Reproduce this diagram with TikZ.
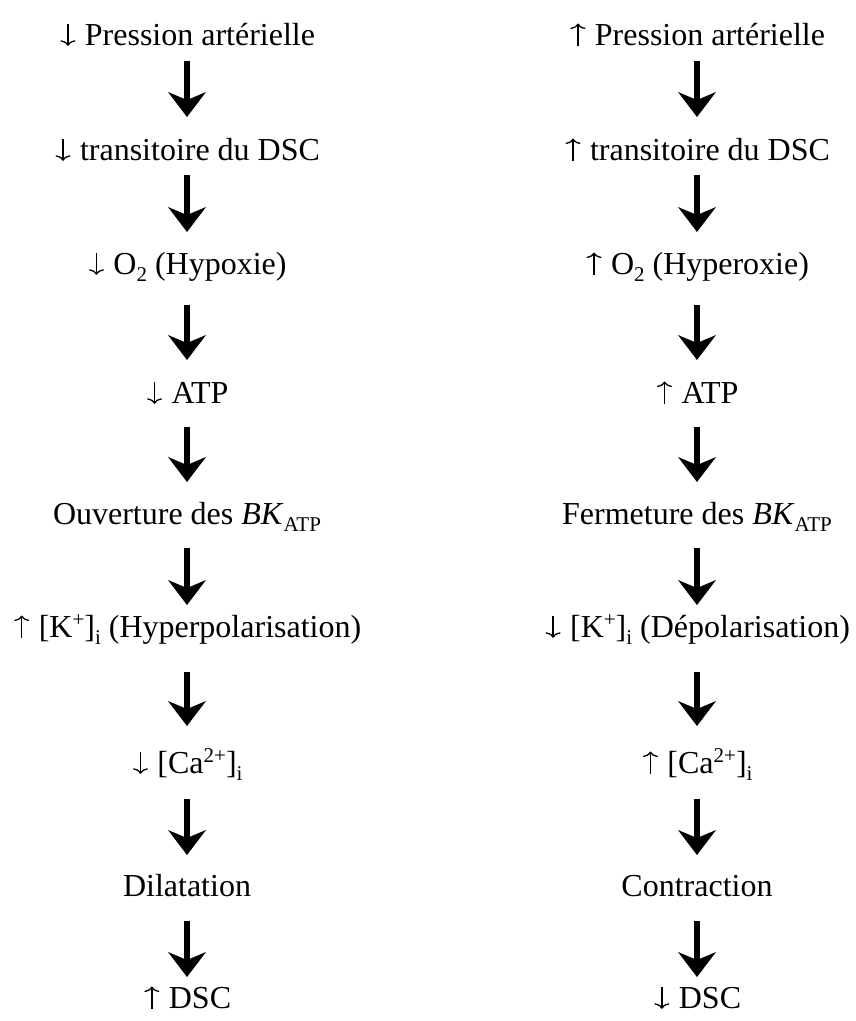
\documentclass[tikz,border=0pt]{standalone}
\usepackage{fontspec}
\setmainfont{Liberation Serif}
\usetikzlibrary{arrows.meta,calc}
\newcommand\sbx[1]{\raisebox{-7pt}{\fontsize{21}{21}\selectfont #1}}
\newcommand\spx[1]{\raisebox{11pt}{\fontsize{21}{21}\selectfont #1}}
\tikzset{glyph/.style={line width=1.3pt,line cap=butt,-{To[length=5.5pt,width=15pt]}}}
\newcommand\dnarr{\tikz[baseline=0pt]{\path (0pt,-1pt) rectangle (18pt,21pt);
  \draw[glyph] (9pt,21pt) -- (9pt,-0.8pt);}}
\newcommand\uparr{\tikz[baseline=0pt]{\path (0pt,-1pt) rectangle (18pt,21pt);
  \draw[glyph] (9pt,-0.5pt) -- (9pt,21.5pt);}}
\begin{document}
\begin{tikzpicture}[x=1pt,y=-1pt,
  lbl/.style={anchor=base,inner sep=0pt,font=\fontsize{32}{38}\selectfont},
  flow/.style={line width=6pt,-{Stealth[length=25pt,width=38pt,inset=8pt,line width'=0pt]}}]
\useasboundingbox (0,0) rectangle (855,1021);
% left column
\node[lbl] (l1) at (187,45) {\dnarr{} Pression artérielle};
\node[lbl] (l2) at (187,160) {\dnarr{} transitoire du DSC};
\node[lbl] (l3) at (187,274) {\dnarr{} O\sbx{2} (Hypoxie)};
\node[lbl] (l4) at (187,403) {\dnarr{} ATP};
\node[lbl] (l5) at (187,524) {Ouverture des \textit{BK}\sbx{ATP}};
\node[lbl] (l6) at (187,637) {\uparr{} [K\spx{+}]\sbx{i} (Hyperpolarisation)};
\node[lbl] (l7) at (187,773) {\dnarr{} [Ca\spx{2+}]\sbx{i}};
\node[lbl] (l8) at (187,896) {Dilatation};
\node[lbl] (l9) at (187,1008) {\uparr{} DSC};
% right column
\node[lbl] (r1) at (697,45) {\uparr{} Pression artérielle};
\node[lbl] (r2) at (697,160) {\uparr{} transitoire du DSC};
\node[lbl] (r3) at (697,274) {\uparr{} O\sbx{2} (Hyperoxie)};
\node[lbl] (r4) at (697,403) {\uparr{} ATP};
\node[lbl] (r5) at (697,524) {Fermeture des \textit{BK}\sbx{ATP}};
\node[lbl] (r6) at (697,637) {\dnarr{} [K\spx{+}]\sbx{i} (Dépolarisation)};
\node[lbl] (r7) at (697,773) {\uparr{} [Ca\spx{2+}]\sbx{i}};
\node[lbl] (r8) at (697,896) {Contraction};
\node[lbl] (r9) at (697,1008) {\dnarr{} DSC};
% connectors
\foreach \c in {l,r}{
  \draw[flow] ($(\c1.base)+(0,16)$) -- ($(\c2.base)+(0,-43)$);
  \draw[flow] ($(\c2.base)+(0,15)$) -- ($(\c3.base)+(0,-42)$);
  \draw[flow] ($(\c3.base)+(0,31)$) -- ($(\c4.base)+(0,-43)$);
  \draw[flow] ($(\c4.base)+(0,24)$) -- ($(\c5.base)+(0,-42)$);
  \draw[flow] ($(\c5.base)+(0,24)$) -- ($(\c6.base)+(0,-32)$);
  \draw[flow] ($(\c6.base)+(0,35)$) -- ($(\c7.base)+(0,-47)$);
  \draw[flow] ($(\c7.base)+(0,26)$) -- ($(\c8.base)+(0,-41)$);
  \draw[flow] ($(\c8.base)+(0,25)$) -- ($(\c9.base)+(0,-31)$);
}
\end{tikzpicture}
\end{document}
